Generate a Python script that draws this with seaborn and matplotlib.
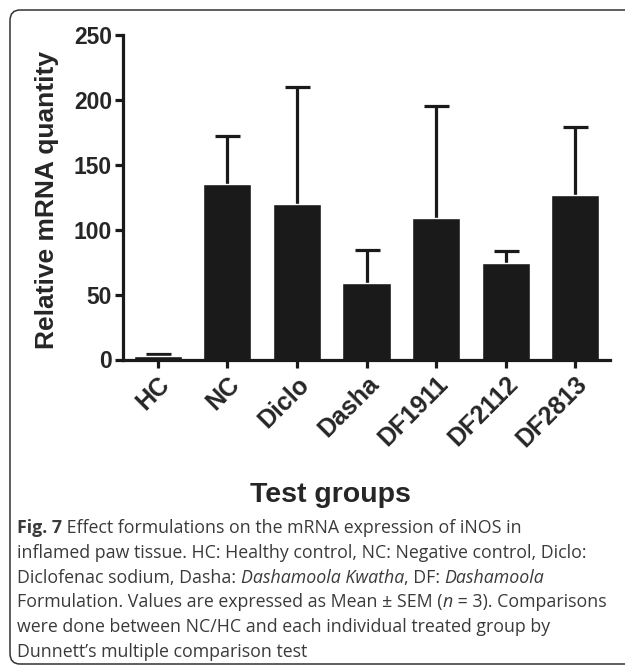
import matplotlib
matplotlib.use("Agg")
import matplotlib.pyplot as plt
import seaborn as sns
import pandas as pd
from matplotlib.patches import FancyBboxPatch

# data (mean and upper SEM)
groups = ["HC", "NC", "Diclo", "Dasha", "DF1911", "DF2112", "DF2813"]
mean_vals = [2.5, 135, 120, 59, 109, 74, 126.5]
sem_vals = [1.5, 37, 90, 25, 86, 9.5, 53]
y_ticks = [0, 50, 100, 150, 200, 250]

caption_lines = [
    [("Fig. 7", "bold", "normal"), (" Effect formulations on the mRNA expression of iNOS in", "normal", "normal")],
    [("inflamed paw tissue. HC: Healthy control, NC: Negative control, Diclo:", "normal", "normal")],
    [("Diclofenac sodium, Dasha: ", "normal", "normal"), ("Dashamoola Kwatha", "normal", "italic"),
     (", DF: ", "normal", "normal"), ("Dashamoola", "normal", "italic")],
    [("Formulation. Values are expressed as Mean \u00b1 SEM (", "normal", "normal"), ("n", "normal", "italic"),
     (" = 3). Comparisons", "normal", "normal")],
    [("were done between NC/HC and each individual treated group by", "normal", "normal")],
    [("Dunnett\u2019s multiple comparison test", "normal", "normal")],
]

df = pd.DataFrame({"group": groups, "value": mean_vals})

sns.set_style("ticks")
plt.rcParams["font.family"] = ["Liberation Sans", "DejaVu Sans"]

W, H = 625, 666
fig = plt.figure(figsize=(W / 100, H / 100), dpi=100)
ax = fig.add_axes([123 / W, 1 - 359.5 / H, 487 / W, 324.5 / H])

bar_color = "#1a1a1a"
# error bars first (only the upper half shows above each bar)
ax.errorbar(range(len(groups)), mean_vals, yerr=[mean_vals, sem_vals],
            fmt="none", ecolor=bar_color, elinewidth=2.3, capsize=9, capthick=2.3, zorder=1)
sns.barplot(data=df, x="group", y="value", color=bar_color, width=0.69,
            errorbar=None, saturation=1, ax=ax, zorder=2)

ax.set_ylim(0, 250)
ax.set_xlim(-0.5, len(groups) - 0.5)
ax.set_yticks(y_ticks)
sns.despine(ax=ax)
for s in ["left", "bottom"]:
    ax.spines[s].set_linewidth(2.3)
    ax.spines[s].set_color(bar_color)
    ax.spines[s].set_zorder(3)
ax.tick_params(axis="both", width=2.3, length=6, color=bar_color, pad=2)
ax.tick_params(axis="y", labelsize=16.5)
ax.tick_params(axis="x", labelsize=18, pad=3)
for lab in ax.get_yticklabels():
    lab.set_fontweight("bold")
for lab in ax.get_xticklabels():
    lab.set_fontweight("bold")
    lab.set_rotation(45)
    lab.set_ha("right")
    lab.set_va("top")
    lab.set_rotation_mode("anchor")

ax.set_xlabel("")
ax.set_ylabel("Relative mRNA quantity", fontsize=19, fontweight="bold")
ax.yaxis.set_label_coords(-0.131, 0.49)
fig.text(330 / W, 1 - 502 / H, "Test groups", fontsize=20.5, fontweight="bold",
         ha="center", va="baseline")

# rounded frame around figure and caption (right side runs off the image)
frame = FancyBboxPatch((10 / W, 2 / H), 700 / W, (H - 12) / H,
                       boxstyle="round,pad=0,rounding_size=0.016",
                       transform=fig.transFigure, fill=False,
                       edgecolor="#333333", linewidth=1.1, clip_on=False)
fig.patches.append(frame)

# caption, drawn segment by segment so bold/italic parts line up
fig.canvas.draw()
renderer = fig.canvas.get_renderer()
cap_size = 12.8
for i, line in enumerate(caption_lines):
    x = 17
    y = 1 - (533 + 24.8 * i) / H
    for txt, weight, style in line:
        t = fig.text(x / W, y, txt, fontsize=cap_size, fontweight=weight, fontstyle=style,
                     family=["Open Sans", "DejaVu Sans"], color="#3a3a3a",
                     ha="left", va="baseline")
        bb = t.get_window_extent(renderer=renderer)
        x += bb.width

fig.savefig("out.png", dpi=100)
